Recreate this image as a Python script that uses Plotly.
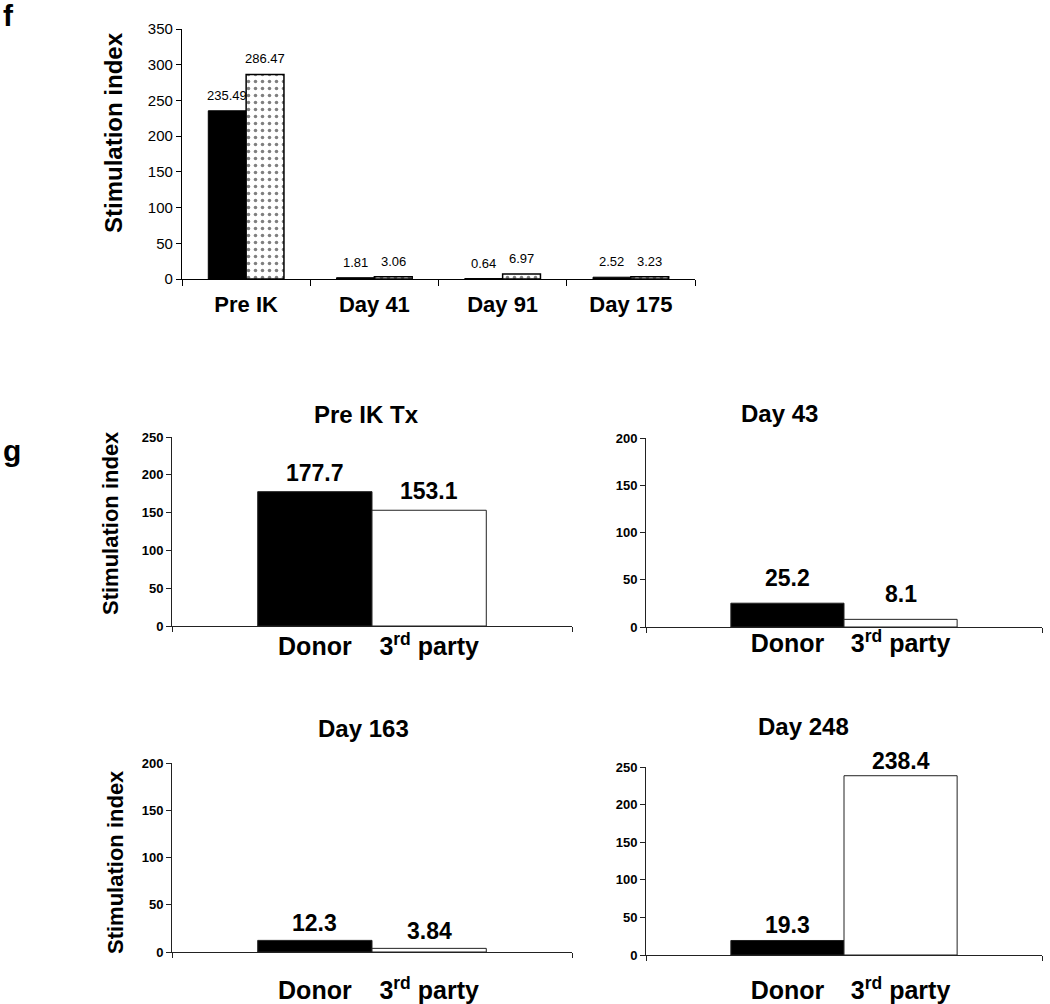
import plotly.graph_objects as go

# ---------------- data ----------------
f_categories = ["Pre IK", "Day 41", "Day 91", "Day 175"]
f_donor = [235.49, 1.81, 0.64, 2.52]
f_third = [286.47, 3.06, 6.97, 3.23]

g_titles = ["Pre IK Tx", "Day 43", "Day 163", "Day 248"]
g_donor = [177.7, 25.2, 12.3, 19.3]
g_third = [153.1, 8.1, 3.84, 238.4]
g_ymax = [250, 200, 200, 250]
g_xlabels = ["Donor", "3<sup>rd</sup> party"]

W, H = 1050, 1004
FONT = "Liberation Sans, Arial, Helvetica, sans-serif"


def px(x):
    return x / W


def py(y):
    return 1 - y / H


fig = go.Figure()
annotations = []


def paper_text(x, y, text, size, angle=0, xanchor="center"):
    annotations.append(dict(x=px(x), y=py(y), xref="paper", yref="paper",
                            text=text, textangle=angle, showarrow=False,
                            xanchor=xanchor, yanchor="middle",
                            font=dict(family=FONT, size=size, color="black",
                                      weight="bold")))


# ---------------- panel f ----------------
bargap_f = 0.41
fig.add_trace(go.Bar(
    x=f_categories, y=f_donor, xaxis="x", yaxis="y",
    marker=dict(color="black", line=dict(color="black", width=1)),
    showlegend=False, hoverinfo="x+y"))
fig.add_trace(go.Bar(
    x=f_categories, y=f_third, xaxis="x", yaxis="y",
    marker=dict(color="white", line=dict(color="black", width=1.5),
                pattern=dict(shape=".", fgcolor="black", bgcolor="white",
                             size=7, solidity=0.2)),
    showlegend=False, hoverinfo="x+y"))

bw = (1 - bargap_f) / 2
for i, (a, b) in enumerate(zip(f_donor, f_third)):
    for off, v in ((-bw / 2, a), (bw / 2, b)):
        annotations.append(dict(
            x=i + off, y=v, xref="x", yref="y", text=str(v),
            showarrow=False, xanchor="center", yanchor="bottom", yshift=6,
            font=dict(family=FONT, size=13, color="black")))

layout_axes = dict(
    xaxis=dict(domain=[px(182), px(695)], anchor="y", type="category",
               automargin=False,
               showline=True, linecolor="black", linewidth=1.2,
               ticks="outside", tickson="boundaries", ticklen=6,
               tickcolor="black", showgrid=False, ticklabelstandoff=5,
               tickfont=dict(family=FONT, size=22, color="black", weight="bold")),
    yaxis=dict(domain=[py(279), py(29)], anchor="x", range=[0, 350], dtick=50,
               automargin=False,
               showline=True, linecolor="black", linewidth=1.2,
               ticks="outside", ticklen=5, tickcolor="black",
               showgrid=False, zeroline=False,
               tickfont=dict(family=FONT, size=15, color="black")),
)

paper_text(113, 133, "Stimulation index", 24, angle=-90)
paper_text(1, 16, "f", 30, xanchor="left")
paper_text(1, 450, "g", 30, xanchor="left")

# ---------------- panels g ----------------
g_domx = [(172, 572), (646, 1042), (172, 572), (646, 1042)]
g_domy = [(437, 626), (438, 627), (763, 952), (767, 955)]
g_title_pos = [(366, 414), (779, 413), (363, 728), (803, 726)]
g_standoff = [-2, -6, 16, 13]
g_lab_shift = [4, 10, 2, 0]
g_ytitle = [(110, 523), None, (115, 862), None]
xr = [-1.25, 2.25]

for k in range(4):
    xa = f"x{k + 2}"
    ya = f"y{k + 2}"
    fig.add_trace(go.Bar(
        x=[0, 1], y=[g_donor[k], g_third[k]], width=1,
        xaxis=xa, yaxis=ya,
        marker=dict(color=["black", "white"], line=dict(color="#222", width=1)),
        showlegend=False, hoverinfo="y"))
    for j, v in enumerate([g_donor[k], g_third[k]]):
        annotations.append(dict(
            x=j, y=v, xref=xa, yref=ya, text=str(v), showarrow=False,
            xanchor="center", yanchor="bottom", yshift=g_lab_shift[k],
            font=dict(family=FONT, size=23, color="black", weight="bold")))
    x0, x1 = g_domx[k]
    y0, y1 = g_domy[k]
    layout_axes[f"xaxis{k + 2}"] = dict(
        domain=[px(x0), px(x1)], anchor=ya, range=xr, automargin=False,
        tickmode="array", tickvals=[0, 1], ticktext=g_xlabels,
        ticks="", showgrid=False, zeroline=False,
        showline=True, linecolor="#222", linewidth=1,
        ticklabelstandoff=g_standoff[k],
        minor=dict(tickmode="array", tickvals=xr, ticks="outside",
                   ticklen=5, tickcolor="#222", showgrid=False),
        tickfont=dict(family=FONT, size=25, color="black", weight="bold"))
    layout_axes[f"yaxis{k + 2}"] = dict(
        domain=[py(y1), py(y0)], anchor=xa, range=[0, g_ymax[k]], dtick=50,
        automargin=False,
        showline=True, linecolor="#222", linewidth=1,
        ticks="outside", ticklen=5, tickcolor="#222",
        showgrid=False, zeroline=False,
        tickfont=dict(family=FONT, size=13, color="black", weight="bold"))
    tx, ty = g_title_pos[k]
    paper_text(tx, ty, g_titles[k], 24)
    if g_ytitle[k]:
        yx, yy = g_ytitle[k]
        paper_text(yx, yy, "Stimulation index", 22, angle=-90)

fig.update_layout(
    width=W, height=H,
    margin=dict(l=0, r=0, t=0, b=0, autoexpand=False),
    paper_bgcolor="white", plot_bgcolor="white",
    barmode="group", bargap=bargap_f, bargroupgap=0,
    annotations=annotations,
    **layout_axes,
)

fig.write_html("out.html", config={"displayModeBar": False},
               post_script="document.body.style.margin='0';document.body.style.overflow='hidden';")
